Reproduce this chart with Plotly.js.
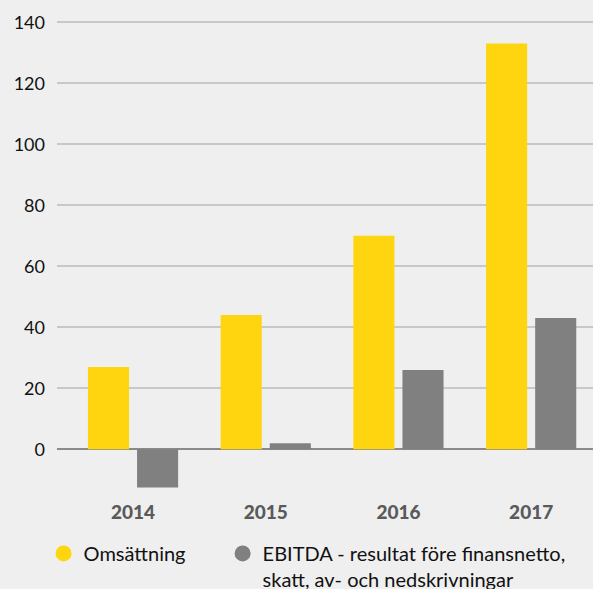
<!DOCTYPE html>
<html>
<head>
<meta charset="utf-8">
<script src="https://cdn.plot.ly/plotly-3.0.1.min.js"></script>
<style>html,body{margin:0;padding:0;background:#efefef;}#chart{width:593px;height:589px;}</style>
</head>
<body>
<div id="chart"></div>
<script>
var years = ['2014', '2015', '2016', '2017'];
var omsattning = [27, 44, 70, 133];
var ebitda = [-12.5, 2, 26, 43];
var seriesNames = ['Omsättning', 'EBITDA - resultat före finansnetto,<br>skatt, av- och nedskrivningar'];
var yTicks = [0, 20, 40, 60, 80, 100, 120, 140];

var yellow = '#FFD510';
var grey = '#808080';

var traces = [
  {type: 'bar', x: years, y: omsattning, marker: {color: yellow}, showlegend: false, hoverinfo: 'y'},
  {type: 'bar', x: years, y: ebitda, marker: {color: grey}, showlegend: false, hoverinfo: 'y'},
  {type: 'scatter', mode: 'markers', x: [null], y: [null], name: seriesNames[0], legend: 'legend', marker: {color: yellow, size: 20, symbol: 'circle'}},
  {type: 'scatter', mode: 'markers', x: [null], y: [null], name: seriesNames[1], legend: 'legend2', marker: {color: grey, size: 20, symbol: 'circle'}}
];

var legendBase = {
  orientation: 'h', xref: 'container', yref: 'container',
  xanchor: 'left', y: 0.0935, yanchor: 'top',
  valign: 'top', bgcolor: 'rgba(0,0,0,0)', itemsizing: 'trace',
  font: {family: 'Lato, sans-serif', size: 20, color: '#111'}
};

var layout = {
  width: 593, height: 589,
  paper_bgcolor: '#efefef', plot_bgcolor: '#efefef',
  margin: {l: 57, r: 0, t: 7, b: 94, autoexpand: false},
  barmode: 'group', bargap: 0.26, bargroupgap: 0.163,
  font: {family: 'Lato, sans-serif', size: 17, color: '#111'},
  xaxis: {
    type: 'category', range: [-0.573, 3.466], showgrid: false, zeroline: false, showline: false,
    ticks: '', ticklabelstandoff: 4,
    tickfont: {family: 'Lato, sans-serif', size: 19, color: '#5a5a5a', weight: 900}
  },
  yaxis: {
    range: [-15, 145], tickvals: yTicks, ticktext: yTicks.map(String),
    showgrid: true, gridcolor: '#c8c8c8', gridwidth: 2,
    zeroline: true, zerolinecolor: '#8a8a8a', zerolinewidth: 2,
    showline: false, ticks: '', ticklabelstandoff: 11,
    tickfont: {family: 'Lato, sans-serif', size: 18, color: '#111'}
  },
  legend: Object.assign({}, legendBase, {x: 0.0735}),
  legend2: Object.assign({}, legendBase, {x: 0.3754}),
  showlegend: true
};

Plotly.newPlot('chart', traces, layout, {displayModeBar: false, staticPlot: true});
</script>
</body>
</html>
